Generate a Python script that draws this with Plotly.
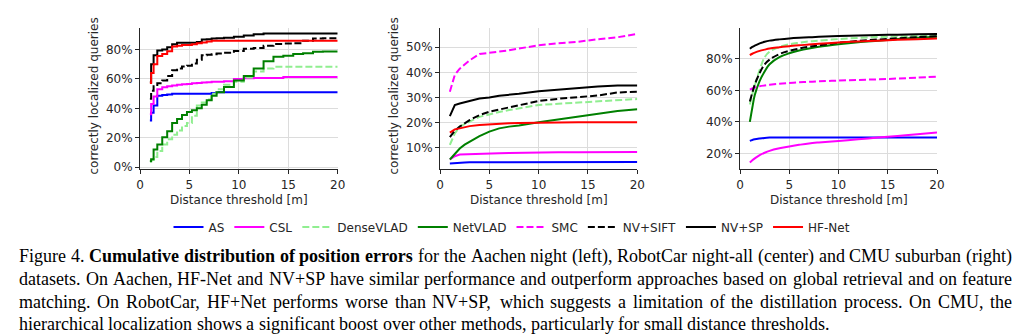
import plotly.graph_objects as go

# ---------------- data ----------------
methods = ["AS", "CSL", "DenseVLAD", "NetVLAD", "SMC", "NV+SIFT", "NV+SP", "HF-Net"]

aachen_x = [1, 1.25, 1.5, 2, 2.5, 3, 3.5, 4, 4.5, 5, 5.5, 6, 6.5, 7, 7.5, 8, 9, 10, 11, 12, 13, 14, 15, 16, 17, 18, 19, 20]
aachen_as = [31.8, 37, 42, 48.5, 49, 49.5, 50, 50, 50, 50, 50, 50, 50, 50, 50.5, 51, 51, 51, 51, 51, 51, 51, 51, 51, 51, 51, 51, 51]
aachen_csl = [36, 43, 48, 53, 54.3, 55, 55.5, 56, 56.3, 56.6, 57, 57.2, 57.5, 57.8, 58, 58, 58.5, 60, 60.5, 60.7, 60.7, 60.7, 61.3, 61.3, 61.3, 61.3, 61.3, 61.3]
aachen_densevlad = [4, 5, 7, 11, 15.5, 19, 22, 25, 28, 30, 35, 42, 44, 46, 50, 53, 56, 58, 61, 65, 67, 68.2, 68.2, 68.2, 68.2, 68.2, 68.2, 68.2]
aachen_netvlad = [4.1, 5.5, 12, 15.5, 20.4, 24.5, 30, 32.7, 35.5, 37.5, 38.8, 40, 42.5, 45.5, 48.5, 51, 54.5, 59, 62, 67, 72, 75, 75.7, 77, 77.5, 78.5, 78.6, 78.6]
aachen_nvsift = [46.6, 52, 55, 57, 59, 62, 65.9, 67, 68.5, 69, 70.4, 73, 76, 76.5, 76.8, 77.2, 77.7, 79, 80.5, 81, 82.5, 83.8, 84, 84.3, 86, 87.5, 87.7, 87.7]
aachen_nvsp = [58, 70, 76, 79.3, 80, 81.5, 83.5, 84.5, 84.5, 84.5, 84.5, 85, 86.8, 87, 87.5, 87.7, 88, 88.6, 89.5, 90.3, 90.9, 90.9, 90.9, 90.9, 90.9, 90.9, 90.9, 90.9]
aachen_hfnet = [57.3, 64, 70, 75.5, 77, 78.8, 82, 82.5, 83, 83, 83.5, 84.2, 84.8, 85.4, 85.9, 85.9, 85.9, 85.9, 85.9, 85.9, 85.9, 85.9, 85.9, 85.9, 85.9, 85.9, 85.9, 85.9]

robotcar_x = [1, 1.25, 1.5, 2, 2.5, 3, 4, 5, 6, 7, 8, 10, 12, 14, 16, 18, 20]
robotcar_as = [3.7, 3.8, 3.9, 4.1, 4.1, 4.2, 4.2, 4.2, 4.3, 4.3, 4.3, 4.3, 4.3, 4.3, 4.3, 4.3, 4.3]
robotcar_csl = [5.3, 6.0, 6.6, 7.3, 7.4, 7.5, 7.6, 7.7, 7.8, 7.9, 8.0, 8.1, 8.2, 8.2, 8.3, 8.3, 8.3]
robotcar_densevlad = [11.1, 13.5, 15.7, 18.4, 19.5, 20.4, 22.3, 23.4, 24.2, 25, 25.7, 27, 27.5, 28, 28.5, 29, 29.4]
robotcar_netvlad = [5.3, 6.3, 7.4, 9.7, 11.2, 12.4, 14.6, 16.4, 17.7, 18.4, 18.8, 20.1, 21.3, 22.3, 23.7, 24.6, 25.3]
robotcar_smc = [32.3, 36, 39, 41.5, 43, 44.8, 47.3, 47.8, 48.1, 48.8, 49.5, 50.8, 51.6, 52.2, 53.2, 54, 55.3]
robotcar_nvsift = [14.2, 15.5, 16.8, 18.4, 19.8, 21, 23, 24.3, 25.2, 26, 26.8, 28.6, 29.5, 30.2, 30.8, 32, 32.3]
robotcar_nvsp = [22.6, 25, 27, 27.6, 28, 28.6, 29.6, 30, 30.7, 31, 31.5, 32.5, 33.2, 33.8, 34.4, 34.8, 34.8]
robotcar_hfnet = [16, 16.8, 17.3, 17.7, 18.2, 18.6, 19, 19.3, 19.5, 19.7, 19.8, 20, 20.1, 20.1, 20.1, 20.1, 20.1]

cmu_x = [1, 1.25, 1.5, 2, 2.5, 3, 4, 5, 6, 7, 8, 10, 12, 14, 16, 18, 20]
cmu_as = [28, 28.6, 29, 29.5, 29.9, 30.1, 30.2, 30.2, 30.2, 30.2, 30.2, 30.2, 30.2, 30.2, 30.2, 30.2, 30.2]
cmu_csl = [14.3, 15.7, 16.9, 19, 20.5, 21.7, 23.3, 24.5, 25.5, 26.4, 27, 28, 29, 30.1, 31.1, 32.2, 33.3]
cmu_densevlad = [51, 57.5, 63, 73, 81, 84.5, 87.5, 89.2, 90.2, 91, 91.5, 92.5, 93.2, 93.8, 94.2, 94.5, 94.8]
cmu_netvlad = [40, 49, 57, 66, 72, 76.5, 81, 83.5, 85.2, 86.5, 87.6, 89.2, 90.5, 91.5, 92.5, 93.3, 94]
cmu_smc = [60.5, 61.2, 61.8, 62.6, 63.1, 63.5, 64.2, 64.7, 65.1, 65.4, 65.7, 66.2, 66.6, 67, 67.5, 68.1, 68.7]
cmu_nvsift = [53, 58.5, 63.7, 71, 76.5, 79.5, 83, 85, 86.5, 87.7, 88.5, 90.2, 91.3, 92.2, 93, 93.7, 94.3]
cmu_nvsp = [86.4, 87.5, 88.3, 89.8, 90.8, 91.5, 92.3, 92.9, 93.3, 93.6, 93.9, 94.4, 94.8, 95.1, 95.3, 95.5, 95.7]
cmu_hfnet = [82.3, 83.2, 83.9, 85, 85.8, 86.5, 87.3, 88, 88.6, 89, 89.5, 90.3, 91, 91.5, 92, 92.4, 92.8]

x_ticks = [0, 5, 10, 15, 20]
aachen_yticks = [0, 20, 40, 60, 80]
robotcar_yticks = [10, 20, 30, 40, 50]
cmu_yticks = [20, 40, 60, 80]

x_title = "Distance threshold [m]"
y_title = "correctly localized queries"

caption_lines = [
    [("Figure 4.", False), ("Cumulative distribution of position errors", True),
     ("for the Aachen night (left), RobotCar night-all (center) and CMU suburban (right)", False)],
    [("datasets. On Aachen, HF-Net and NV+SP have similar performance and outperform approaches based on global retrieval and on feature", False)],
    [("matching. On RobotCar, HF+Net performs worse than NV+SP, which suggests a limitation of the distillation process. On CMU, the", False)],
    [("hierarchical localization shows a significant boost over other methods, particularly for small distance thresholds.", False)],
]

# ---------------- styles ----------------
styles = {
    "AS": dict(color="#0000ff", dash="solid"),
    "CSL": dict(color="#ff00ff", dash="solid"),
    "DenseVLAD": dict(color="#90ee90", dash="7px,3px"),
    "NetVLAD": dict(color="#008000", dash="solid"),
    "SMC": dict(color="#ff00ff", dash="7px,3px"),
    "NV+SIFT": dict(color="#000000", dash="7px,3px"),
    "NV+SP": dict(color="#000000", dash="solid"),
    "HF-Net": dict(color="#ff0000", dash="solid"),
}

panels = [
    ("x", "y", aachen_x, "hvh", {"AS": aachen_as, "CSL": aachen_csl, "DenseVLAD": aachen_densevlad,
                                 "NetVLAD": aachen_netvlad, "NV+SIFT": aachen_nvsift, "NV+SP": aachen_nvsp,
                                 "HF-Net": aachen_hfnet}),
    ("x2", "y2", robotcar_x, "linear", {"AS": robotcar_as, "CSL": robotcar_csl, "DenseVLAD": robotcar_densevlad,
                                        "NetVLAD": robotcar_netvlad, "SMC": robotcar_smc, "NV+SIFT": robotcar_nvsift,
                                        "NV+SP": robotcar_nvsp, "HF-Net": robotcar_hfnet}),
    ("x3", "y3", cmu_x, "spline", {"AS": cmu_as, "CSL": cmu_csl, "DenseVLAD": cmu_densevlad,
                                   "NetVLAD": cmu_netvlad, "SMC": cmu_smc, "NV+SIFT": cmu_nvsift,
                                   "NV+SP": cmu_nvsp, "HF-Net": cmu_hfnet}),
]

W, H = 1024, 336
fig = go.Figure()
shown = set()
for xa, ya, xs, shape, series in panels:
    for m in methods:
        if m not in series:
            continue
        st = styles[m]
        fig.add_trace(go.Scatter(
            x=xs, y=series[m], mode="lines", name=m, xaxis=xa, yaxis=ya,
            line=dict(color=st["color"], dash=st["dash"], width=2, shape=shape),
            showlegend=m not in shown, legendrank=methods.index(m) + 1,
        ))
        shown.add(m)

TXT = "#262626"
tickfont = dict(family="DejaVu Sans", size=12, color=TXT)

def xaxis(domain, anchor):
    return dict(domain=domain, anchor=anchor, range=[0, 20], tickmode="array", tickvals=x_ticks,
                ticktext=[str(v) for v in x_ticks],
                showline=True, linecolor=TXT, linewidth=1, ticks="outside", ticklen=4,
                tickcolor=TXT, showgrid=True, gridcolor="#dcdcdc", gridwidth=1,
                zeroline=False, tickfont=tickfont, automargin=False)

def yaxis(domain, anchor, rng, ticks):
    return dict(domain=domain, anchor=anchor, range=rng, tickmode="array", tickvals=ticks,
                ticktext=[f"{v}%" for v in ticks],
                showline=True, linecolor=TXT, linewidth=1, ticks="outside", ticklen=4,
                tickcolor=TXT, showgrid=True, gridcolor="#dcdcdc", gridwidth=1,
                zeroline=False, tickfont=tickfont, automargin=False)

ydom = [1 - 169.3 / H, 1 - 27.7 / H]
xd1 = [140 / W, 337.7 / W]
xd2 = [440 / W, 637.3 / W]
xd3 = [740 / W, 937 / W]

fig.update_layout(
    width=W, height=H, margin=dict(l=0, r=0, t=0, b=0),
    paper_bgcolor="white", plot_bgcolor="white",
    xaxis=xaxis(xd1, "y"), yaxis=yaxis(ydom, "x", [-1.4, 94.8], aachen_yticks),
    xaxis2=xaxis(xd2, "y2"), yaxis2=yaxis(ydom, "x2", [1.4, 57.8], robotcar_yticks),
    xaxis3=xaxis(xd3, "y3"), yaxis3=yaxis(ydom, "x3", [10, 99.7], cmu_yticks),
    legend=dict(orientation="h", x=0.5, xanchor="center", y=1 - 227 / H, yanchor="middle",
                font=dict(family="DejaVu Sans", size=12, color=TXT), bgcolor="rgba(0,0,0,0)",
                itemwidth=30, traceorder="normal"),
    showlegend=True,
)

annos = []
axfont = dict(family="DejaVu Sans", size=12, color=TXT)
for xd in (xd1, xd2, xd3):
    annos.append(dict(text=x_title, x=(xd[0] + xd[1]) / 2, y=1 - 200 / H, xref="paper", yref="paper",
                      showarrow=False, xanchor="center", yanchor="middle", font=axfont))
for xc in (93.5, 393.5):
    annos.append(dict(text=y_title, x=xc / W, y=1 - 96 / H, xref="paper", yref="paper",
                      showarrow=False, xanchor="center", yanchor="middle", textangle=-90, font=axfont))

# ---------------- caption (justified, Times metrics) ----------------
REG = dict(zip("ABCDEFGHIJKLMNOPQRSTUVWXYZ",
               [722, 667, 667, 722, 611, 556, 722, 722, 333, 389, 722, 611, 889, 722, 722, 556, 722, 667, 556, 611, 722, 722, 944, 722, 722, 611]))
REG.update(dict(zip("abcdefghijklmnopqrstuvwxyz",
                    [444, 500, 444, 500, 444, 333, 500, 500, 278, 278, 500, 278, 778, 500, 500, 500, 500, 333, 389, 278, 500, 500, 722, 500, 500, 444])))
REG.update({" ": 250, ".": 250, ",": 250, "(": 333, ")": 333, "-": 333, "+": 564})
REG.update({d: 500 for d in "0123456789"})
BOLD = dict(REG)
BOLD.update(dict(zip("abcdefghijklmnopqrstuvwxyz",
                     [500, 556, 444, 556, 444, 333, 500, 556, 278, 333, 556, 278, 833, 556, 500, 556, 556, 444, 389, 333, 556, 500, 722, 500, 500, 444])))
BOLD.update({"C": 722})

FS = 18
LEFT, RIGHT = 18, 1011
line_y = [256, 279, 301.5, 323.5]
capfont = dict(family="Liberation Serif, Times New Roman, serif", size=FS, color="#000000")

def width(word, bold):
    table = BOLD if bold else REG
    return sum(table.get(c, 500) for c in word) * FS / 1000.0

for li, segs in enumerate(caption_lines):
    words = []
    for text, bold in segs:
        for w in text.split():
            words.append((w, bold))
    ws = [width(w, b) for w, b in words]
    justify = li < len(caption_lines) - 1
    gap = (RIGHT - LEFT - sum(ws)) / (len(words) - 1) if justify else 250 * FS / 1000.0
    xpos = LEFT
    for (w, b), wd in zip(words, ws):
        annos.append(dict(text=f"<b>{w}</b>" if b else w, x=xpos / W, y=1 - line_y[li] / H,
                          xref="paper", yref="paper", showarrow=False, xanchor="left",
                          yanchor="middle", borderpad=0, font=capfont))
        xpos += wd + gap

fig.update_layout(annotations=annos)
fig.write_html("out.html")
